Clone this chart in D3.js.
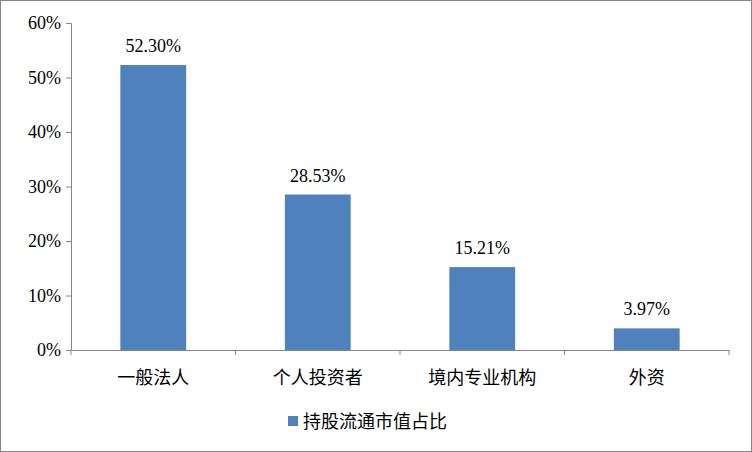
<!DOCTYPE html>
<html><head><meta charset="utf-8">
<script src="https://cdn.jsdelivr.net/npm/d3@7"></script>
<style>body{margin:0;background:#fff}</style>
</head><body>
<svg id="chart" width="752" height="452"></svg>
<script>
var categories = ["一般法人", "个人投资者", "境内专业机构", "外资"];
var values = [52.30, 28.53, 15.21, 3.97];
var yTicks = [0, 10, 20, 30, 40, 50, 60];
var seriesName = "持股流通市值占比";

var svg = d3.select("#chart");
var serif = "'Liberation Serif', 'Times New Roman', serif";
var cjk = "'Noto Sans CJK SC', sans-serif";

svg.append("rect").attr("x", 0.5).attr("y", 0.5).attr("width", 751).attr("height", 451)
    .attr("fill", "#fff").attr("stroke", "#868686");

var x = d3.scaleBand().domain(categories).range([71, 729]).paddingInner(0.6).paddingOuter(0.3);
var y = d3.scaleLinear().domain([0, 60]).range([350, 23]);

var yAxis = svg.append("g").attr("transform", "translate(71,0)")
    .call(d3.axisLeft(y).tickValues(yTicks).tickSize(5).tickFormat(d => d + "%"));
yAxis.select(".domain").attr("stroke", "#868686");
yAxis.selectAll("line").attr("stroke", "#868686");
yAxis.selectAll("text").attr("font-family", serif).attr("font-size", 18).attr("fill", "#000").attr("dx", -2);

var xAxis = svg.append("g").attr("transform", "translate(0,350)")
    .call(d3.axisBottom(x).tickSize(0).tickFormat(""));
xAxis.select(".domain").attr("stroke", "#868686");
var bounds = [71].concat(categories.map((c, i) => 71 + (i + 1) * 658 / 4));
svg.selectAll(".xt").data(bounds).enter().append("line")
    .attr("x1", d => d).attr("x2", d => d).attr("y1", 350).attr("y2", 355).attr("stroke", "#868686");
svg.selectAll(".xl").data(categories).enter().append("text")
    .attr("x", d => x(d) + x.bandwidth() / 2).attr("y", 384).attr("text-anchor", "middle")
    .attr("font-family", cjk).attr("font-size", 18).text(d => d);

svg.selectAll(".bar").data(values).enter().append("rect")
    .attr("x", (d, i) => x(categories[i])).attr("width", x.bandwidth())
    .attr("y", d => y(d)).attr("height", d => 350 - y(d)).attr("fill", "#4f81bd");

svg.selectAll(".vl").data(values).enter().append("text")
    .attr("x", (d, i) => x(categories[i]) + x.bandwidth() / 2).attr("y", d => y(d) - 13)
    .attr("text-anchor", "middle").attr("font-family", serif).attr("font-size", 18)
    .text(d => d.toFixed(2) + "%");

svg.append("rect").attr("x", 288).attr("y", 416).attr("width", 10).attr("height", 10).attr("fill", "#4f81bd");
svg.append("text").attr("x", 303).attr("y", 428).attr("font-family", cjk).attr("font-size", 18).text(seriesName);
</script>
</body></html>
